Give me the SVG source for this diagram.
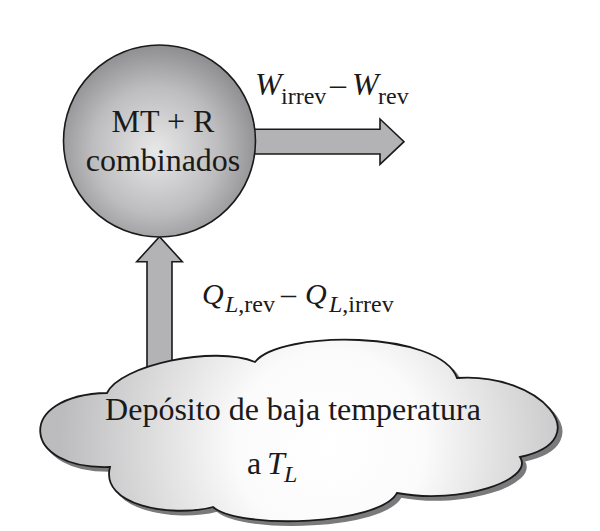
<svg xmlns="http://www.w3.org/2000/svg" width="600" height="531" viewBox="0 0 600 531">
  <defs>
    <radialGradient id="gCircle" cx="0.48" cy="0.55" r="0.55" fx="0.48" fy="0.55">
      <stop offset="0" stop-color="#e8e8e9"/>
      <stop offset="0.6" stop-color="#bdbdbf"/>
      <stop offset="1" stop-color="#8e8e90"/>
    </radialGradient>
    <radialGradient id="gCloud" gradientUnits="userSpaceOnUse" cx="330" cy="445" r="270">
      <stop offset="0" stop-color="#ffffff"/>
      <stop offset="0.35" stop-color="#fbfbfb"/>
      <stop offset="1" stop-color="#bcbcbe"/>
    </radialGradient>
    <path id="cloudShape" d="M107,393 C120,365 215,345 255,362 C280,330 440,330 457,378 C540,372 600,440 520,457 C535,480 460,505 397,493 C380,525 240,530 213,507 C170,518 100,505 110,467 C20,470 15,395 107,393 Z"/>
  </defs>
  <style>
    .arrow { fill: #b3b3b5; stroke: #1a1a1a; stroke-width: 1.6; stroke-linejoin: miter; }
    .serif { font-family: "Liberation Serif", "Times New Roman", serif; fill: #1a1a1a; }
    .it { font-style: italic; }
  </style>

  <g id="connectors">
    <g id="edge-work">
      <path class="arrow" d="M240,129.3 L380,129.3 L380,119 L404,141.7 L380,164.3 L380,154 L240,154 Z"/>
      <text class="serif" font-size="32">
        <tspan class="it" x="255" y="95">W</tspan><tspan font-size="24" x="281" y="103.5">irrev</tspan><tspan x="330" y="95">–</tspan><tspan class="it" x="352" y="95">W</tspan><tspan font-size="24" x="378" y="103.5">rev</tspan>
      </text>
    </g>
    <g id="edge-heat">
      <path class="arrow" d="M147,400 L147,261.7 L136.7,261.7 L159.5,236.7 L182.3,261.7 L172,261.7 L172,400 Z"/>
      <text class="serif" font-size="30">
        <tspan class="it" x="202" y="304">Q</tspan><tspan class="it" font-size="24" x="225" y="312">L</tspan><tspan font-size="24" y="312">,rev</tspan><tspan x="281" y="304">–</tspan><tspan class="it" x="305" y="304">Q</tspan><tspan class="it" font-size="24" x="329" y="312">L</tspan><tspan font-size="24" y="312">,irrev</tspan>
      </text>
    </g>
  </g>

  <g id="node-engine">
    <circle cx="159.5" cy="141" r="96" fill="url(#gCircle)" stroke="#1a1a1a" stroke-width="1.6"/>
    <text class="serif" font-size="32" text-anchor="middle" x="163" y="132">MT + R</text>
    <text class="serif" font-size="32" text-anchor="middle" x="163" y="171">combinados</text>
  </g>

  <g id="node-reservoir">
    <use href="#cloudShape" transform="translate(4,4)" fill="#7a7a7c" stroke="#7a7a7c" stroke-width="1.5"/>
    <use href="#cloudShape" fill="url(#gCloud)" stroke="#1a1a1a" stroke-width="1.8"/>
    <text class="serif" font-size="32" text-anchor="middle" x="293" y="420">Depósito de baja temperatura</text>
    <text class="serif" font-size="32"><tspan x="247" y="474">a</tspan><tspan class="it" x="267" y="474">T</tspan><tspan class="it" font-size="24" x="284" y="482">L</tspan></text>
  </g>
</svg>
